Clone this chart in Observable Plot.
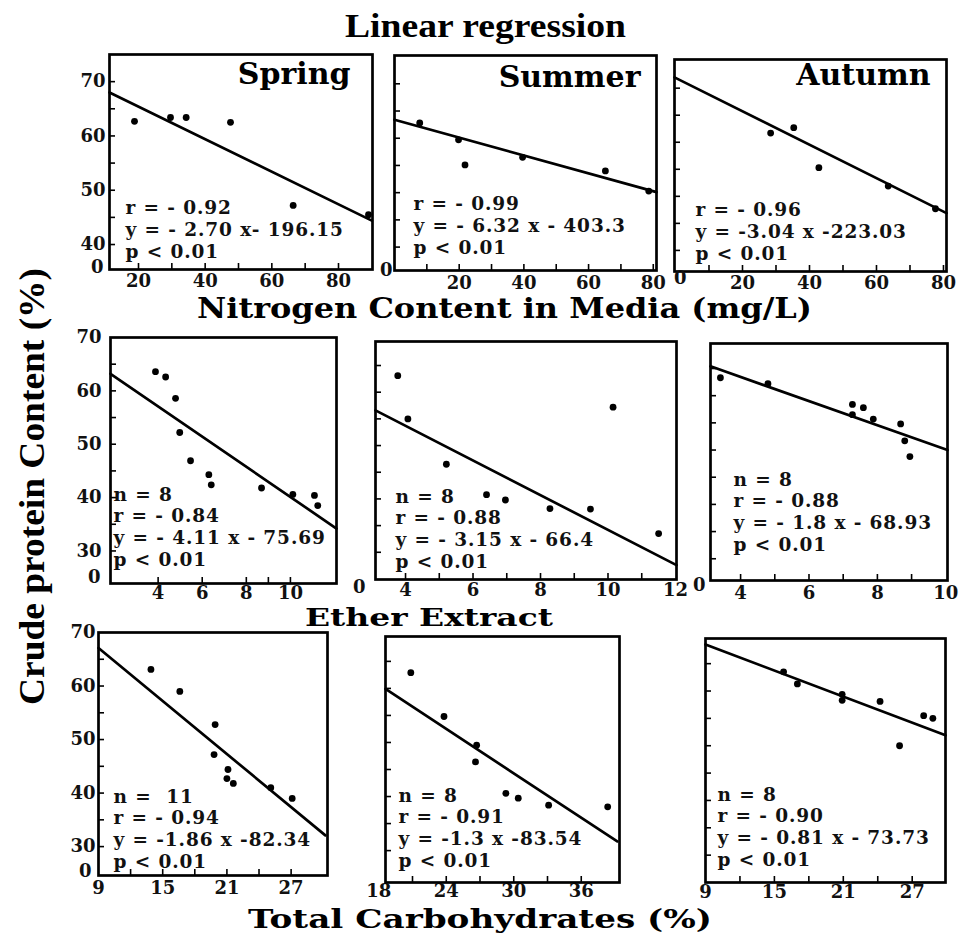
<!DOCTYPE html>
<html>
<head>
<meta charset="utf-8">
<script src="https://cdn.jsdelivr.net/npm/d3@7"></script>
<script src="https://cdn.jsdelivr.net/npm/@observablehq/plot@0.6"></script>
<style>
  body { margin: 0; background: #fff; }
  #fig { position: relative; width: 960px; height: 936px; overflow: hidden; background: #fff; }
  .panel { position: absolute; }
  .panel tspan { letter-spacing: 0.9px; }
  #titles { position: absolute; left: 0; top: 0; pointer-events: none; }
</style>
</head>
<body>
<div id="fig"></div>
<script>
// ---------- text ----------
const mainTitle = "Linear regression";
const yTitle = "Crude protein Content (%)";
const xTitles = ["Nitrogen Content in Media (mg/L)", "Ether Extract", "Total Carbohydrates (%)"];
const seasons = ["Spring", "Summer", "Autumn"];
const breakLabel = "0";

// ---------- row 1 : nitrogen content ----------
const nSpringX = [18.8, 29.6, 34.3, 47.6, 66.4, 89.0];
const nSpringY = [62.7, 63.4, 63.4, 62.5, 47.2, 45.5];
const nSpringFit = [[11.3, 68.0], [90.0, 44.4]];
const nSpringStats = ["r = - 0.92", "y = - 2.70 x- 196.15", "p < 0.01"];

const nSummerX = [7.8, 19.8, 21.8, 39.6, 65.2, 78.6];
const nSummerY = [62.8, 59.7, 55.1, 56.5, 54.0, 50.3];
const nSummerFit = [[0, 63.4], [81, 50.1]];
const nSummerStats = ["r = - 0.99", "y = - 6.32 x - 403.3", "p < 0.01"];

const nAutumnX = [28.4, 35.3, 42.8, 63.5, 77.6];
const nAutumnY = [61.7, 62.7, 55.3, 51.9, 47.7];
const nAutumnFit = [[-0.3, 72.0], [80.9, 46.9]];
const nAutumnStats = ["r = - 0.96", "y = -3.04 x -223.03", "p < 0.01"];

// ---------- row 2 : ether extract ----------
const eSpringX = [3.88, 4.34, 4.79, 4.98, 5.47, 6.30, 6.41, 8.69, 10.11, 11.09, 11.24];
const eSpringY = [63.6, 62.6, 58.6, 52.2, 46.9, 44.3, 42.4, 41.8, 40.6, 40.4, 38.5];
const eSpringFit = [[1.84, 63.2], [12.09, 34.2]];
const eSpringStats = ["n = 8", "r = - 0.84", "y = - 4.11 x - 75.69", "p < 0.01"];

const eSummerX = [3.77, 4.07, 5.21, 6.40, 6.96, 8.28, 9.48, 10.15, 11.50];
const eSummerY = [63.1, 55.0, 46.5, 40.8, 39.8, 38.2, 38.1, 57.2, 33.5];
const eSummerFit = [[3.11, 56.6], [12.03, 27.6]];
const eSummerStats = ["n = 8", "r = - 0.88", "y = - 3.15 x - 66.4", "p < 0.01"];

const eAutumnX = [3.41, 4.80, 7.27, 7.27, 7.59, 7.88, 8.68, 8.80, 8.95];
const eAutumnY = [63.3, 62.2, 58.4, 56.5, 57.8, 55.7, 54.8, 51.7, 48.8];
const eAutumnFit = [[3.12, 65.4], [10.05, 50.0]];
const eAutumnStats = ["n = 8", "r = - 0.88", "y = - 1.8 x - 68.93", "p < 0.01"];

// ---------- row 3 : total carbohydrates ----------
const cSpringX = [13.9, 16.6, 19.9, 19.8, 21.1, 21.0, 21.6, 25.1, 27.1];
const cSpringY = [63.1, 59.0, 52.8, 47.2, 44.4, 42.7, 41.8, 41.0, 39.0];
const cSpringFit = [[9, 67.1], [30.2, 32.1]];
const cSpringStats = ["n =  11", "r = - 0.94", "y = -1.86 x -82.34", "p < 0.01"];

const cSummerX = [20.85, 23.8, 26.7, 26.6, 29.3, 30.4, 33.1, 38.35];
const cSummerY = [62.9, 54.8, 49.5, 46.4, 40.6, 39.7, 38.4, 38.1];
const cSummerFit = [[18.6, 59.9], [39.2, 31.7]];
const cSummerStats = ["n = 8", "r = - 0.91", "y = -1.3 x -83.54", "p < 0.01"];

const cAutumnX = [15.8, 17.0, 20.9, 20.9, 24.2, 25.9, 28.0, 28.8];
const cAutumnY = [63.5, 61.3, 59.4, 58.3, 58.1, 50.0, 55.5, 55.0];
const cAutumnFit = [[9, 68.5], [29.9, 51.9]];
const cAutumnStats = ["n = 8", "r = - 0.90", "y = - 0.81 x - 73.73", "p < 0.01"];

// ---------- tick values ----------
const nXLabels = [20, 40, 60, 80];
const nXTicks = [10, 20, 30, 40, 50, 60, 70, 80];
const nYLabels = [40, 50, 60, 70];
const nYTicks = [40, 45, 50, 55, 60, 65, 70];
const eSpringXLabels = [4, 6, 8, 10];
const eSpringXTicks = [4, 6, 8, 9, 10];
const eSummerXLabels = [4, 6, 8, 10, 12];
const eSummerXTicks = [4, 5, 6, 7, 8, 9, 10, 11];
const eAutumnXLabels = [4, 6, 8, 10];
const eAutumnXTicks = [4, 5, 6, 7, 8, 9];
const lowYLabels = [30, 40, 50, 60, 70];
const lowYTicks = [30, 35, 40, 45, 50, 55, 60, 65];
const cXLabels = [9, 15, 21, 27];
const cXTicks = [12, 15, 18, 21, 24, 27];
const cSummerXLabels = [18, 24, 30, 36];
const cSummerXTicks = [21, 24, 27, 30, 33, 36];

// ---------- panels (data + layout) ----------
const panels = [
  {x: nSpringX, y: nSpringY, fit: nSpringFit, stats: nSpringStats, season: seasons[0],
   xDomain: [11.3, 90.2], yDomain: [35.4, 75.0], xLabels: nXLabels, xTicks: nXTicks.slice(1), yLabels: nYLabels, yTicks: nYTicks, zero: true,
   box: [109, 54, 372, 269], sDx: 16, sDy: -12, xPad: 5, yPad: 4, zDx: -6, zDy: -2, tDx: -22, tDy: 8},
  {x: nSummerX, y: nSummerY, fit: nSummerFit, stats: nSummerStats, season: seasons[1],
   xDomain: [0, 81], yDomain: [35.7, 75.2], xLabels: nXLabels, xTicks: nXTicks, yLabels: [], yTicks: nYTicks, zero: true,
   box: [394, 55, 656, 270], sDx: 19, sDy: -17, xPad: 6, yPad: 4, zDx: -2, zDy: 0, tDx: -16, tDy: 10},
  {x: nAutumnX, y: nAutumnY, fit: nAutumnFit, stats: nAutumnStats, season: seasons[2],
   xDomain: [-0.3, 80.9], yDomain: [36.1, 75.3], xLabels: nXLabels, xTicks: nXTicks, yLabels: [], yTicks: nYTicks, zero: true,
   box: [674, 59, 946, 271], sDx: 21, sDy: -12, xPad: 5, yPad: 4, zDx: 12, zDy: 7, tDx: -16, tDy: 4},
  {x: eSpringX, y: eSpringY, fit: eSpringFit, stats: eSpringStats,
   xDomain: [1.84, 12.09], yDomain: [23.9, 70], xLabels: eSpringXLabels, xTicks: eSpringXTicks, yLabels: lowYLabels, yTicks: lowYTicks, zero: true,
   box: [110, 337, 336, 583], sDx: 3, sDy: -18, xPad: 3, yPad: 9, zDx: -10, zDy: -6},
  {x: eSummerX, y: eSummerY, fit: eSummerFit, stats: eSummerStats,
   xDomain: [3.11, 12.03], yDomain: [24.9, 69.5], xLabels: eSummerXLabels, xTicks: eSummerXTicks, yLabels: [], yTicks: lowYTicks, zero: true,
   box: [375, 341, 676, 579], sDx: 20, sDy: -12, xPad: 4, yPad: 4, zDx: -10, zDy: 8},
  {x: eAutumnX, y: eAutumnY, fit: eAutumnFit, stats: eAutumnStats,
   xDomain: [3.12, 10.05], yDomain: [26, 69.6], xLabels: eAutumnXLabels, xTicks: eAutumnXTicks, yLabels: [], yTicks: lowYTicks, zero: true,
   box: [710, 343, 947, 580], sDx: 23, sDy: -30, xPad: 6, yPad: 4, zDx: -5, zDy: 5},
  {x: cSpringX, y: cSpringY, fit: cSpringFit, stats: cSpringStats,
   xDomain: [9, 30.4], yDomain: [24.6, 70], xLabels: cXLabels, xTicks: cXTicks, yLabels: lowYLabels, yTicks: lowYTicks, zero: true,
   box: [98, 632, 327, 875], sDx: 15, sDy: -8, xPad: 6, yPad: 3, zDx: -7, zDy: -4},
  {x: cSummerX, y: cSummerY, fit: cSummerFit, stats: cSummerStats,
   xDomain: [18.6, 39.4], yDomain: [24.1, 69.6], xLabels: cSummerXLabels, xTicks: cSummerXTicks, yLabels: [], yTicks: lowYTicks, zero: false,
   box: [385, 636, 619, 882], sDx: 13, sDy: -16, xPad: 2, yPad: 4},
  {x: cAutumnX, y: cAutumnY, fit: cAutumnFit, stats: cAutumnStats,
   xDomain: [9, 29.9], yDomain: [25, 69.6], xLabels: cXLabels, xTicks: cXTicks, yLabels: [], yTicks: lowYTicks, zero: false,
   box: [705, 638, 945, 882], sDx: 12, sDy: -17, xPad: 3, yPad: 4}
];

const fig = document.getElementById("fig");
const FONT = "'DejaVu Serif', serif";
const ml = 50, mr = 10, mt = 10, mb = 34;
const fmt = d => `${d}`;
const STAT_SIZE = 18.5, STAT_LH = 1.17;

for (const p of panels) {
  const [L, T, R, B] = p.box;
  const pts = p.x.map((x, i) => ({x, y: p.y[i]}));
  const fit = p.fit.map(([x, y]) => ({x, y}));
  const marks = [
    Plot.axisY({ticks: p.yTicks, tickSize: 6, dx: 6, tickFormat: () => "", strokeWidth: 1.6}),
    Plot.axisX({ticks: p.xTicks, tickSize: 6, dy: -6, tickFormat: () => "", strokeWidth: 1.6}),
    Plot.axisX({ticks: p.xLabels, tickSize: 0, tickPadding: p.xPad, tickFormat: fmt, fontSize: 18, fontWeight: "bold", fill: "#111"}),
    Plot.line(fit, {x: "x", y: "y", stroke: "#000", strokeWidth: 2.7}),
    Plot.dot(pts, {x: "x", y: "y", r: 3.4, fill: "#000", stroke: "none"}),
    Plot.text([p.stats.join("\n")], {text: d => d, frameAnchor: "bottom-left", textAnchor: "start", lineAnchor: "bottom",
      dx: p.sDx, dy: p.sDy, lineHeight: STAT_LH, fontSize: STAT_SIZE, fontWeight: "bold", fill: "#111"}),
    Plot.frame({stroke: "#000", strokeWidth: 2.7})
  ];
  if (p.yLabels.length) marks.push(Plot.axisY({ticks: p.yLabels, tickSize: 0, tickPadding: p.yPad, tickFormat: fmt, fontSize: 18, fontWeight: "bold", fill: "#111"}));
  if (p.zero) marks.push(Plot.text([breakLabel], {text: d => d, frameAnchor: "bottom-left", textAnchor: "end", lineAnchor: "middle",
      dx: p.zDx, dy: p.zDy, fontSize: 18, fontWeight: "bold", fill: "#111"}));
  if (p.season) marks.push(Plot.text([p.season], {text: d => d, frameAnchor: "top-right", textAnchor: "end", lineAnchor: "top",
      dx: p.tDx, dy: p.tDy, fontSize: 30, fontWeight: "bold", fill: "#000"}));

  const chart = Plot.plot({
    width: R - L + ml + mr,
    height: B - T + mt + mb,
    marginLeft: ml, marginRight: mr, marginTop: mt, marginBottom: mb,
    x: {domain: p.xDomain, label: null},
    y: {domain: p.yDomain, label: null},
    style: {fontFamily: FONT, fontWeight: "bold", fontSize: "18px", background: "transparent", overflow: "visible", color: "#000"},
    marks
  });
  chart.classList.add("panel");
  chart.style.left = (L - ml) + "px";
  chart.style.top = (T - mt) + "px";
  chart.style.maxWidth = "none";
  fig.appendChild(chart);
}

// ---------- titles ----------
const NS = "http://www.w3.org/2000/svg";
const tsvg = document.createElementNS(NS, "svg");
tsvg.setAttribute("id", "titles");
tsvg.setAttribute("width", 960);
tsvg.setAttribute("height", 936);
const titleSpecs = [
  {t: mainTitle, x: 345, y: 37, len: 281, size: 34, font: "'Liberation Serif', serif"},
  {t: xTitles[0], x: 197, y: 318, len: 615, size: 27, font: FONT},
  {t: xTitles[1], x: 305, y: 626, len: 248, size: 25, font: FONT},
  {t: xTitles[2], x: 248, y: 928, len: 464, size: 26, font: FONT},
  {t: yTitle, x: 0, y: 0, len: 437, size: 36, font: "'Liberation Serif', serif", transform: "translate(44,705) rotate(-90)"}
];
for (const s of titleSpecs) {
  const el = document.createElementNS(NS, "text");
  el.textContent = s.t;
  el.setAttribute("x", s.x);
  el.setAttribute("y", s.y);
  el.setAttribute("font-family", s.font);
  el.setAttribute("font-size", s.size);
  el.setAttribute("font-weight", "bold");
  el.setAttribute("textLength", s.len);
  el.setAttribute("lengthAdjust", "spacingAndGlyphs");
  el.setAttribute("fill", "#000");
  if (s.transform) el.setAttribute("transform", s.transform);
  tsvg.appendChild(el);
}
fig.appendChild(tsvg);
</script>
</body>
</html>
